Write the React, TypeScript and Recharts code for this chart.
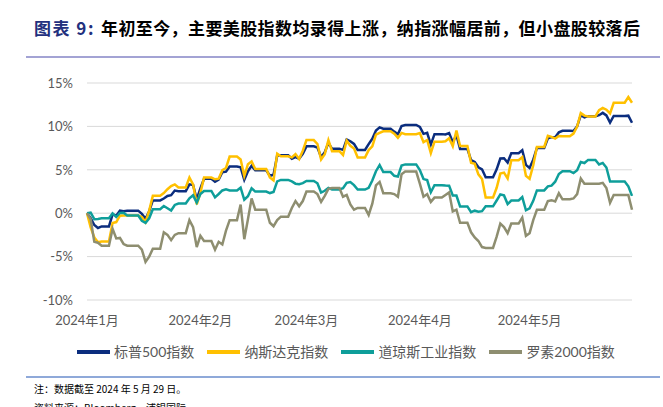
import React from 'react';
import { LineChart, Line, XAxis, YAxis, CartesianGrid } from 'recharts';

// Trading days (2024, MM-DD); base 0 on 2024-01-01 (close of 2023-12-29)
const tradeDates = [
  '01-02','01-03','01-04','01-05','01-08','01-09','01-10','01-11','01-12','01-16','01-17','01-18','01-19','01-22','01-23','01-24','01-25','01-26','01-29','01-30','01-31',
  '02-01','02-02','02-05','02-06','02-07','02-08','02-09','02-12','02-13','02-14','02-15','02-16','02-20','02-21','02-22','02-23','02-26','02-27','02-28','02-29',
  '03-01','03-04','03-05','03-06','03-07','03-08','03-11','03-12','03-13','03-14','03-15','03-18','03-19','03-20','03-21','03-22','03-25','03-26','03-27','03-28',
  '04-01','04-02','04-03','04-04','04-05','04-08','04-09','04-10','04-11','04-12','04-15','04-16','04-17','04-18','04-19','04-22','04-23','04-24','04-25','04-26','04-29','04-30',
  '05-01','05-02','05-03','05-06','05-07','05-08','05-09','05-10','05-13','05-14','05-15','05-16','05-17','05-20','05-21','05-22','05-23','05-24','05-28','05-29',
];

const BASE = 0;

const spx = [
  -0.57,-1.36,-1.70,-1.52,-0.13,-0.28,0.29,0.22,0.29,-0.08,-0.64,0.23,1.47,1.69,1.99,2.07,2.61,2.54,3.32,3.25,1.59,
  2.86,3.96,3.63,3.87,4.72,4.78,5.38,5.28,3.84,4.84,5.45,4.94,4.31,4.44,6.65,6.69,6.28,6.47,6.29,6.84,
  7.70,7.57,6.47,7.02,8.12,7.42,7.30,8.50,8.29,7.98,7.28,7.96,8.57,9.53,9.89,9.74,9.40,9.09,10.04,10.16,
  9.94,9.14,9.26,7.91,9.11,9.07,9.23,8.19,9.00,7.41,6.12,5.90,5.29,5.06,4.14,5.05,6.30,6.33,5.84,6.92,7.26,5.57,
  5.21,6.17,7.50,8.62,8.76,8.76,9.31,9.49,9.47,10.00,11.29,11.05,11.18,11.29,11.56,11.26,10.44,11.21,11.24,10.42,
];

const ndx = [
  -1.63,-2.79,-3.34,-3.25,-1.12,-1.02,-0.28,-0.27,-0.26,-0.45,-1.04,0.30,2.00,2.32,2.76,3.13,3.32,2.96,4.11,3.32,1.02,
  2.33,4.11,3.91,3.98,4.96,5.21,6.52,6.20,4.29,5.65,5.96,5.09,4.13,3.79,6.86,6.56,6.43,6.82,6.24,7.20,
  8.42,7.97,6.18,6.80,8.41,7.15,6.71,8.35,7.77,7.44,6.41,7.27,7.69,9.05,9.26,9.44,9.15,8.69,9.25,9.11,
  9.23,8.19,8.43,6.91,8.24,8.28,8.63,7.72,9.53,7.75,5.82,5.69,4.48,3.93,1.80,2.93,4.56,4.67,4.00,6.11,6.47,4.31,
  3.96,5.53,7.63,8.91,8.80,8.60,8.89,8.86,9.17,9.99,11.53,11.24,11.15,11.88,12.13,11.92,11.49,12.72,13.38,12.72,
];

const dji = [
  0.07,-0.69,-0.66,-0.59,-0.02,-0.44,0.02,0.06,-0.26,-0.87,-1.12,-0.59,0.46,0.83,0.57,0.31,0.95,1.11,1.71,2.06,1.22,
  2.20,2.56,1.83,2.21,2.62,2.75,2.61,2.94,1.55,1.95,2.87,2.49,2.32,2.45,3.66,3.83,3.66,3.40,3.34,3.47,
  3.71,3.45,2.38,2.58,2.92,2.74,2.87,3.49,3.59,3.23,2.72,2.92,3.77,4.84,5.55,4.74,4.31,4.23,5.49,5.62,
  4.98,3.93,3.81,2.41,3.22,3.19,3.17,2.05,2.04,0.78,0.12,0.29,0.17,0.23,0.79,1.46,2.16,2.05,1.05,1.46,1.85,0.34,
  0.57,1.42,2.62,3.09,3.17,3.63,4.51,4.84,4.62,4.96,5.89,5.78,6.14,5.62,5.79,5.26,3.65,3.66,3.09,2.00,
];

const rut = [
  -0.7,-3.3,-3.4,-3.75,-1.8,-2.9,-2.85,-3.55,-3.75,-4.2,-5.6,-5.0,-4.1,-2.2,-2.5,-3.1,-2.5,-2.3,-0.8,-1.6,-3.9,
  -2.6,-3.2,-4.2,-3.3,-3.6,-2.0,-0.8,1.0,-3.0,-0.7,1.7,0.4,-1.1,-1.5,-0.8,-0.4,0.6,1.4,0.8,1.4,
  2.5,2.2,1.3,2.0,2.8,2.9,1.9,2.1,1.0,0.4,0.6,-0.2,1.1,3.2,3.6,2.3,2.2,1.9,4.5,4.8,
  3.4,1.9,2.2,1.3,1.8,2.1,2.4,0.2,0.4,-1.1,-2.2,-2.8,-3.2,-3.9,-4.0,-2.7,-1.2,-1.6,-2.3,-1.2,-0.5,-2.6,
  -2.3,-0.8,0.4,1.4,1.5,1.35,2.3,1.6,1.7,2.2,4.0,3.4,3.4,3.4,3.5,2.9,1.2,2.1,2.1,0.4,
];

const monthTicks = [0, 31, 60, 91, 121];
const monthLabels = ['2024年1月', '2024年2月', '2024年3月', '2024年4月', '2024年5月'];
const yTicks = [-10, -5, 0, 5, 10, 15];

const seriesDefs = [
  { key: 'spx', name: '标普500指数', color: '#0B2D7E', values: spx },
  { key: 'ndx', name: '纳斯达克指数', color: '#FFC000', values: ndx },
  { key: 'dji', name: '道琼斯工业指数', color: '#0E9E9A', values: dji },
  { key: 'rut', name: '罗素2000指数', color: '#8E8E70', values: rut },
];

const DAY_MS = 86400000;
const START = Date.UTC(2024, 0, 1);
const dayIndex = (md: string) => {
  const [m, d] = md.split('-').map(Number);
  return Math.round((Date.UTC(2024, m - 1, d) - START) / DAY_MS);
};

// Calendar-day table (non-trading days keep the last close, as in the source chart)
const tradeIdx = tradeDates.map(dayIndex);
const lastDay = tradeIdx[tradeIdx.length - 1];
const rows: any[] = [];
{
  let k = -1;
  for (let d = 0; d <= lastDay; d++) {
    while (k + 1 < tradeIdx.length && tradeIdx[k + 1] <= d) k++;
    const row: any = { d };
    seriesDefs.forEach((s) => {
      row[s.key] = k < 0 ? BASE : s.values[k];
    });
    rows.push(row);
  }
}

const FONT = "Lato, 'Noto Sans CJK SC', sans-serif";
const CJK = "'Noto Sans CJK SC', sans-serif";

const XTick = (props: any) => {
  const { x, y, payload } = props;
  const i = monthTicks.indexOf(payload.value);
  return (
    <text x={x} y={y + 25} textAnchor="middle" fill="#595959" fontSize={13} fontFamily={FONT}>
      {i >= 0 ? monthLabels[i] : ''}
    </text>
  );
};

const YTick = (props: any) => {
  const { x, y, payload } = props;
  return (
    <text x={x} y={y + 4.7} textAnchor="end" fill="#595959" fontSize={13} fontFamily={FONT}>
      {`${payload.value}%`}
    </text>
  );
};

export default function App() {
  return (
    <div
      style={{
        position: 'absolute',
        left: 0,
        top: 0,
        width: 663,
        height: 407,
        overflow: 'hidden',
        background: '#fff',
      }}
    >
      <div
        style={{
          position: 'absolute',
          left: 34,
          top: 19,
          fontFamily: CJK,
          fontWeight: 700,
          fontSize: 17,
          lineHeight: '17px',
          letterSpacing: 1.5,
          color: '#22307E',
          whiteSpace: 'nowrap',
        }}
      >
        图表 9:
      </div>
      <div
        style={{
          position: 'absolute',
          left: 101,
          top: 19,
          fontFamily: CJK,
          fontWeight: 700,
          fontSize: 17,
          lineHeight: '17px',
          letterSpacing: 0.4,
          color: '#000',
          whiteSpace: 'nowrap',
        }}
      >
        年初至今，主要美股指数均录得上涨，纳指涨幅居前，但小盘股较落后
      </div>
      <div style={{ position: 'absolute', left: 26, top: 56, width: 634, height: 1.5, background: '#A3A3D4' }} />

      <div style={{ position: 'absolute', left: 0, top: 0 }}>
        <LineChart width={663} height={407} data={rows} margin={{ top: 83, right: 31, bottom: 77, left: 17 }}>
          <CartesianGrid horizontal vertical={false} stroke="#D9D9D9" strokeWidth={1} />
          <XAxis
            dataKey="d"
            type="number"
            domain={[0, lastDay]}
            ticks={monthTicks}
            interval={0}
            tick={<XTick />}
            axisLine={false}
            tickLine={false}
            tickSize={0}
            tickMargin={0}
            height={30}
          />
          <YAxis
            type="number"
            domain={[-10, 15]}
            ticks={yTicks}
            interval={0}
            tick={<YTick />}
            axisLine={false}
            tickLine={false}
            tickSize={0}
            tickMargin={14}
            width={70}
          />
          {seriesDefs.map((s) => (
            <Line
              key={s.key}
              dataKey={s.key}
              name={s.name}
              type="linear"
              stroke={s.color}
              strokeWidth={2.5}
              dot={false}
              activeDot={false}
              isAnimationActive={false}
            />
          ))}
        </LineChart>
      </div>

      <div
        style={{
          position: 'absolute',
          left: 77,
          top: 343,
          height: 18,
          display: 'flex',
          alignItems: 'center',
          fontFamily: FONT,
          fontSize: 14,
          color: '#595959',
          whiteSpace: 'nowrap',
        }}
      >
        {seriesDefs.map((s, i) => (
          <div key={s.key} style={{ display: 'flex', alignItems: 'center', marginRight: i < seriesDefs.length - 1 ? 13 : 0 }}>
            <span style={{ display: 'inline-block', width: 33, height: 3.5, background: s.color, marginRight: 4 }} />
            <span style={{ lineHeight: '18px' }}>{s.name}</span>
          </div>
        ))}
      </div>

      <div style={{ position: 'absolute', left: 26, top: 375.5, width: 634, height: 2, background: '#8FA9D9' }} />
      <div
        style={{
          position: 'absolute',
          left: 34,
          top: 383,
          fontFamily: CJK,
          fontSize: 10,
          lineHeight: '12px',
          color: '#000',
          whiteSpace: 'nowrap',
        }}
      >
        注：数据截至 2024 年 5 月 29 日。
      </div>
      <div
        style={{
          position: 'absolute',
          left: 34,
          top: 402,
          fontFamily: CJK,
          fontSize: 10,
          lineHeight: '12px',
          color: '#000',
          whiteSpace: 'nowrap',
        }}
      >
        资料来源：Bloomberg，浦银国际
      </div>
    </div>
  );
}
